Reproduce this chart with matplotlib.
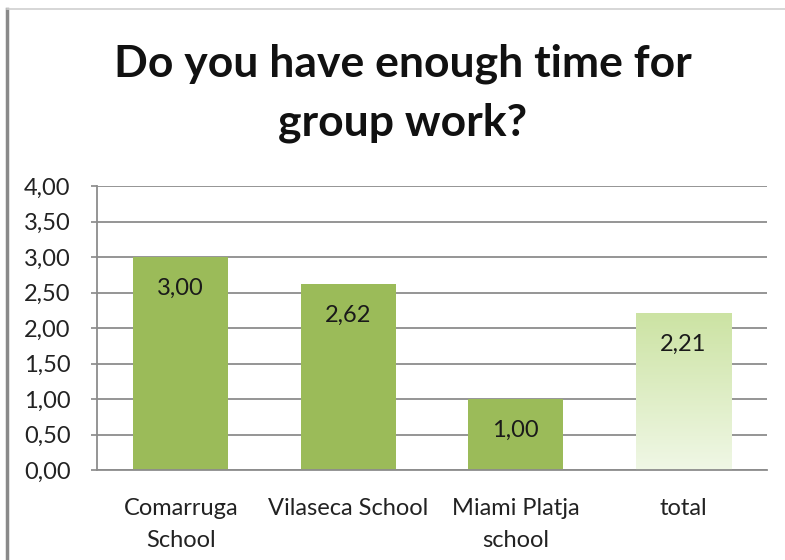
import numpy as np
import matplotlib
matplotlib.use("Agg")
import matplotlib.pyplot as plt
from matplotlib.lines import Line2D

plt.rcParams['font.family'] = ['Lato', 'DejaVu Sans']

categories = ["Comarruga\nSchool", "Vilaseca School", "Miami Platja\nschool", "total"]
values = [3.00, 2.62, 1.00, 2.21]
value_labels = ["3,00", "2,62", "1,00", "2,21"]
y_ticks = [0.0, 0.5, 1.0, 1.5, 2.0, 2.5, 3.0, 3.5, 4.0]
y_tick_labels = ["0,00", "0,50", "1,00", "1,50", "2,00", "2,50", "3,00", "3,50", "4,00"]
title = "Do you have enough time for\ngroup work?"

W, H = 785, 560
fig = plt.figure(figsize=(W / 100, H / 100), dpi=100)
ax = fig.add_axes([97 / W, 1 - 470 / H, (767 - 97) / W, (470 - 186) / H])

x = np.arange(len(categories))
bar_w = 0.57
green = "#9BBB59"
bars = ax.bar(x[:3], values[:3], width=bar_w, color=green, zorder=2)

# gradient-filled bar for the total
gx = x[3]
gv = values[3]
grad = np.linspace(0, 1, 256).reshape(-1, 1)
top_c = np.array([0.80, 0.89, 0.64])
bot_c = np.array([0.94, 0.97, 0.90])
img = bot_c + (top_c - bot_c) * grad
img = img.reshape(256, 1, 3)
ax.imshow(img, extent=[gx - bar_w / 2, gx + bar_w / 2, 0, gv], origin="lower",
          aspect="auto", zorder=2, interpolation="bilinear")

for xi, v, lab in zip(x, values, value_labels):
    ax.text(xi, v - 0.44, lab, ha="center", va="center", fontsize=17,
            color="#1a1a1a", zorder=3)

ax.set_xlim(-0.5, len(categories) - 0.5)
ax.set_ylim(0, 4)
ax.set_yticks(y_ticks)
ax.set_yticklabels(y_tick_labels, fontsize=17, color="#222222")
ax.set_xticks(x)
ax.set_xticklabels(categories, fontsize=17, color="#222222", linespacing=1.65)
ax.tick_params(axis="x", length=0, pad=20)
ax.tick_params(axis="y", length=4, width=1.2, color="#888888", pad=15)
ax.grid(axis="y", color="#8c8c8c", linewidth=1.3, zorder=0)
ax.set_axisbelow(True)
for s in ["top", "right"]:
    ax.spines[s].set_visible(False)
ax.spines["left"].set_color("#8c8c8c")
ax.spines["left"].set_linewidth(1.3)
ax.spines["bottom"].set_color("#8c8c8c")
ax.spines["bottom"].set_linewidth(1.3)

fig.text(403 / W, 1 - 93 / H, title, ha="center", va="center", fontsize=32,
         fontweight="bold", color="#111111", linespacing=1.55)

# frame edges
fig.add_artist(Line2D([7 / W, 7 / W], [0, 1 - 9 / H], transform=fig.transFigure,
                      color="#8a8a8a", linewidth=2.5))
fig.add_artist(Line2D([7 / W, 1], [1 - 9 / H, 1 - 9 / H], transform=fig.transFigure,
                      color="#d0d0d0", linewidth=1.2))

fig.savefig("out.png", dpi=100)
